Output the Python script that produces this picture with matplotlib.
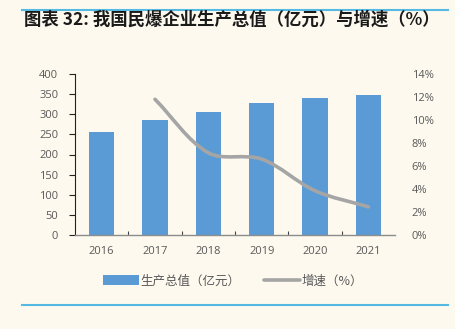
import numpy as np
import matplotlib
matplotlib.use('Agg')
import matplotlib.pyplot as plt
from matplotlib.path import Path
from matplotlib.patches import PathPatch, Patch
from matplotlib.lines import Line2D
from matplotlib.ticker import FuncFormatter, FixedLocator

plt.rcParams['font.family'] = ['Noto Sans CJK SC', 'DejaVu Sans']

years = ['2016', '2017', '2018', '2019', '2020', '2021']
output_value = [256, 286, 305, 327, 341, 349]          # 亿元
growth_years = ['2017', '2018', '2019', '2020', '2021']
growth_rate = [11.8, 7.15, 6.6, 3.85, 2.45]           # %

bg = '#FDF9EF'
bar_color = '#5B9BD5'
line_color = '#A5A5A5'
tick_color = '#595959'
rule_color = '#55BAE3'


def smooth_path(ax, xs, ys):
    # Catmull-Rom style Bezier, tangent lengths weighted by on-screen segment length
    pts = np.column_stack([xs, ys]).astype(float)
    scr = ax.transData.transform(pts)
    n = len(pts)
    seg = np.hypot(*np.diff(scr, axis=0).T)
    verts = [tuple(pts[0])]
    codes = [Path.MOVETO]
    for i in range(n - 1):
        a = pts[i - 1] if i > 0 else pts[i]
        b = pts[i + 2] if i + 2 < n else pts[i + 1]
        d_prev = seg[i - 1] if i > 0 else 0.0
        d_next = seg[i + 1] if i + 2 < n else 0.0
        w1 = seg[i] / (d_prev + seg[i]) / 3
        w2 = seg[i] / (seg[i] + d_next) / 3
        c1 = pts[i] + (pts[i + 1] - a) * w1
        c2 = pts[i + 1] - (b - pts[i]) * w2
        verts += [tuple(c1), tuple(c2), tuple(pts[i + 1])]
        codes += [Path.CURVE4] * 3
    return Path(verts, codes)


fig = plt.figure(figsize=(4.55, 3.29), dpi=100, facecolor=bg)
ax = fig.add_axes([75 / 455, 1 - 235 / 329, 320 / 455, 161 / 329])
ax.set_facecolor(bg)

x = np.arange(len(years))
ax.bar(x, output_value, width=0.48, color=bar_color, zorder=2)
ax.set_xlim(-0.5, len(years) - 0.5)
ax.set_ylim(0, 400)
ax.set_yticks(np.arange(0, 401, 50))
ax.set_xticks(x)
ax.set_xticklabels(years)
ax.xaxis.set_minor_locator(FixedLocator(np.arange(0.5, len(years) - 1, 1)))

for side in ('top', 'right'):
    ax.spines[side].set_visible(False)
ax.spines['left'].set_color('#222222')
ax.spines['left'].set_linewidth(0.8)
ax.spines['bottom'].set_color('#8C8C8C')
ax.spines['bottom'].set_linewidth(1.0)
ax.spines['bottom'].set_zorder(3)
ax.tick_params(axis='y', direction='out', length=4, width=0.8, color='#222222',
               labelcolor=tick_color, labelsize=8, pad=8)
ax.tick_params(axis='x', which='major', length=0, labelcolor=tick_color,
               labelsize=8, pad=8)
ax.tick_params(axis='x', which='minor', direction='in', length=3, width=0.8,
               color='#444444')
for lab in ax.get_xticklabels() + ax.get_yticklabels():
    lab.set_fontfamily(['Open Sans', 'DejaVu Sans'])

ax2 = ax.twinx()
ax2.set_xlim(-0.5, len(years) - 0.5)
ax2.set_ylim(0, 14)
ax2.set_yticks(np.arange(0, 15, 2))
ax2.yaxis.set_major_formatter(FuncFormatter(lambda v, p: f'{v:.0f}%'))
for side in ('top', 'right', 'left', 'bottom'):
    ax2.spines[side].set_visible(False)
ax2.tick_params(axis='y', length=0, labelcolor=tick_color, labelsize=8, pad=12)
for lab in ax2.get_yticklabels():
    lab.set_fontfamily(['Open Sans', 'DejaVu Sans'])

gx = [years.index(y) for y in growth_years]
ax2.add_patch(PathPatch(smooth_path(ax2, gx, growth_rate), fill=False,
                        edgecolor=line_color, lw=2.6, capstyle='round',
                        joinstyle='round', zorder=4))

handles = [Patch(facecolor=bar_color, edgecolor='none'),
           Line2D([0], [0], color=line_color, lw=2.6, solid_capstyle='round')]
labels = ['生产总值（亿元）', '增速（%）']
fig.legend(handles, labels, loc='center', bbox_to_anchor=(233 / 455, 1 - 281 / 329),
           ncol=2, frameon=False, fontsize=9, handlelength=2.9, handleheight=0.9,
           handletextpad=0.1, columnspacing=1.9, labelcolor=tick_color)

fig.text(24 / 455, 1 - 20 / 329, '图表 32: 我国民爆企业生产总值（亿元）与增速（%）',
         fontsize=12.5, fontweight='bold', color='#1A1A1A', ha='left', va='center')

fig.add_artist(Line2D([22 / 455, 448 / 455], [1 - 9.5 / 329] * 2,
                      color=rule_color, lw=1.5))
fig.add_artist(Line2D([22 / 455, 448 / 455], [1 - 304.7 / 329] * 2,
                      color=rule_color, lw=1.5))

fig.savefig('out.png', dpi=100, facecolor=bg)
